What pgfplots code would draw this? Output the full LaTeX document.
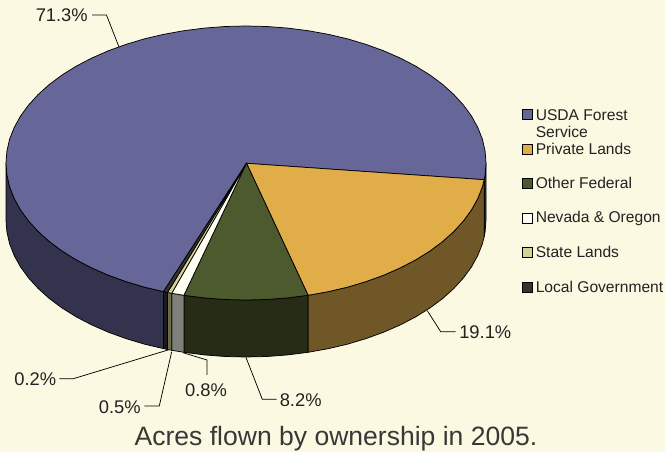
\documentclass[border=0pt]{standalone}
\usepackage{pgfplots}
\pgfplotsset{compat=1.18}
\usepackage{fontspec}
\setmainfont{Liberation Sans}
\definecolor{bg}{HTML}{FBF9E2}
\definecolor{blueT}{HTML}{666699}
\definecolor{blueS}{HTML}{33334D}
\definecolor{orT}{HTML}{E0AD49}
\definecolor{orS}{HTML}{705727}
\definecolor{grT}{HTML}{4D5A2D}
\definecolor{grS}{HTML}{262C16}
\definecolor{whT}{HTML}{FFFFF3}
\definecolor{whS}{HTML}{80807A}
\definecolor{stT}{HTML}{D6D292}
\definecolor{stS}{HTML}{6E6B49}
\definecolor{loT}{HTML}{333333}
\definecolor{loS}{HTML}{1A1A1A}
\definecolor{txt}{HTML}{222222}
\tikzset{
  lab/.style={font=\fontsize{13.75pt}{15pt}\selectfont, text=txt, inner sep=0pt},
  leg/.style={font=\fontsize{11.7pt}{12.4pt}\selectfont, text=txt, inner sep=0pt, anchor=west},
  ld/.style={draw=black, line width=0.6pt, fill=none, sharp plot},
}
\begin{document}
\begin{tikzpicture}
\begin{axis}[
  scale only axis, width=498.75pt, height=339pt,
  xmin=0, xmax=665, ymin=0, ymax=452, y dir=reverse,
  hide axis, clip=true,
  every axis plot post/.append style={line width=0.55pt, mark=none},
]
% background
\addplot[fill=bg, draw=none] coordinates {(0,0)(665,0)(665,452)(0,452)} --cycle;
% side walls
\addplot[fill=blueS, draw=black] coordinates {(163.5,291.6)(144.6,287.2)(126,281.6)(108.3,275.2)(91.7,267.9)(76.3,259.9)(62.2,251.1)(49.4,241.6)(38.2,231.5)(28.5,220.9)(20.5,209.9)(14.2,198.5)(9.6,186.8)(6.9,174.9)(6,163)(6,220)(6.9,231.9)(9.6,243.8)(14.2,255.5)(20.5,266.9)(28.5,277.9)(38.2,288.5)(49.4,298.6)(62.2,308.1)(76.3,316.9)(91.7,324.9)(108.3,332.2)(126,338.6)(144.6,344.2)(163.5,348.6)} --cycle;
\addplot[fill=blueS, draw=black] coordinates {(486,163)(485.1,174.9)(484.2,179.7)(484.2,236.7)(485.1,231.9)(486,220)} --cycle;
\addplot[fill=orS, draw=black] coordinates {(484.2,179.7)(482.4,186.8)(477.8,198.5)(471.5,209.9)(463.5,220.9)(453.8,231.5)(442.6,241.6)(429.8,251.1)(415.7,259.9)(400.3,267.9)(383.7,275.2)(366,281.6)(347.4,287.2)(328.1,291.7)(308.1,295.3)(308.1,352.3)(328.1,348.7)(347.4,344.2)(366,338.6)(383.7,332.2)(400.3,324.9)(415.7,316.9)(429.8,308.1)(442.6,298.6)(453.8,288.5)(463.5,277.9)(471.5,266.9)(477.8,255.5)(482.4,243.8)(484.2,236.7)} --cycle;
\addplot[fill=grS, draw=black] coordinates {(308.1,295.3)(287.7,297.9)(266.9,299.5)(246,300)(225.1,299.5)(204.3,297.9)(183.9,295.3)(183.9,352.3)(204.3,354.9)(225.1,356.5)(246,357)(266.9,356.5)(287.7,354.9)(308.1,352.3)} --cycle;
\addplot[fill=whS, draw=black] coordinates {(183.9,295.3)(171.7,293.3)(171.7,350.3)(183.9,352.3)} --cycle;
\addplot[fill=stS, draw=black] coordinates {(171.7,293.3)(167.5,292.5)(167.5,349.5)(171.7,350.3)} --cycle;
\addplot[fill=loS, draw=black] coordinates {(167.5,292.5)(163.5,291.6)(163.5,348.6)(167.5,349.5)} --cycle;
% top slices
\addplot[fill=blueT, draw=black] coordinates {(246.5,163.3)(163.5,291.6)(144.6,287.2)(126,281.6)(108.3,275.2)(91.7,267.9)(76.3,259.9)(62.2,251.1)(49.4,241.6)(38.2,231.5)(28.5,220.9)(20.5,209.9)(14.2,198.5)(9.6,186.8)(6.9,174.9)(6,163)(6.9,151.1)(9.6,139.2)(14.2,127.5)(20.5,116.1)(28.5,105.1)(38.2,94.5)(49.4,84.4)(62.2,74.9)(76.3,66.1)(91.7,58.1)(108.3,50.8)(126,44.4)(144.6,38.8)(163.9,34.3)(183.9,30.7)(204.3,28.1)(225.1,26.5)(246,26)(266.9,26.5)(287.7,28.1)(308.1,30.7)(328.1,34.3)(347.4,38.8)(366,44.4)(383.7,50.8)(400.3,58.1)(415.7,66.1)(429.8,74.9)(442.6,84.4)(453.8,94.5)(463.5,105.1)(471.5,116.1)(477.8,127.5)(482.4,139.2)(485.1,151.1)(486,163)(485.1,174.9)(484.2,179.7)} --cycle;
\addplot[fill=orT, draw=black] coordinates {(246.5,163.3)(484.2,179.7)(482.4,186.8)(477.8,198.5)(471.5,209.9)(463.5,220.9)(453.8,231.5)(442.6,241.6)(429.8,251.1)(415.7,259.9)(400.3,267.9)(383.7,275.2)(366,281.6)(347.4,287.2)(328.1,291.7)(308.1,295.3)} --cycle;
\addplot[fill=grT, draw=black] coordinates {(246.5,163.3)(308.1,295.3)(287.7,297.9)(266.9,299.5)(246,300)(225.1,299.5)(204.3,297.9)(183.9,295.3)} --cycle;
\addplot[fill=whT, draw=black] coordinates {(246.5,163.3)(183.9,295.3)(171.7,293.3)} --cycle;
\addplot[fill=stT, draw=black] coordinates {(246.5,163.3)(171.7,293.3)(167.5,292.5)} --cycle;
\addplot[fill=loT, draw=black] coordinates {(246.5,163.3)(167.5,292.5)(163.5,291.6)} --cycle;
% leaders
\addplot[ld] coordinates {(119,47)(106.5,15)(92,15)};
\addplot[ld] coordinates {(427.3,310.7)(440.7,331.7)(455.7,331.7)};
\addplot[ld] coordinates {(246,357.5)(262.3,399.3)(276.7,399.3)};
\addplot[ld] coordinates {(183,352.7)(207,360)(207,375)};
\addplot[ld] coordinates {(171.7,351.7)(159.3,406)(144.3,406)};
\addplot[ld] coordinates {(168,350)(73.3,378.7)(59.3,378.7)};
% legend keys
\addplot[fill=blueT, draw=black] coordinates {(522.5,109.5)(532.5,109.5)(532.5,119.5)(522.5,119.5)} --cycle;
\addplot[fill=orT, draw=black] coordinates {(522.5,144)(532.5,144)(532.5,154)(522.5,154)} --cycle;
\addplot[fill=grT, draw=black] coordinates {(522.5,178.5)(532.5,178.5)(532.5,188.5)(522.5,188.5)} --cycle;
\addplot[fill=whT, draw=black] coordinates {(522.5,213)(532.5,213)(532.5,223)(522.5,223)} --cycle;
\addplot[fill=stT, draw=black] coordinates {(522.5,247)(532.5,247)(532.5,257)(522.5,257)} --cycle;
\addplot[fill=loT, draw=black] coordinates {(522.5,282)(532.5,282)(532.5,292)(522.5,292)} --cycle;
% text
\node[lab, anchor=east] at (axis cs:88,15.5) {71.3\%};
\node[lab, anchor=west] at (axis cs:459,332) {19.1\%};
\node[lab, anchor=west] at (axis cs:279.5,400) {8.2\%};
\node[lab] at (axis cs:206,390.5) {0.8\%};
\node[lab, anchor=east] at (axis cs:141,407) {0.5\%};
\node[lab, anchor=east] at (axis cs:56.5,379.5) {0.2\%};
\node[leg] at (axis cs:535.5,115) {USDA Forest};
\node[leg] at (axis cs:535.5,132) {Service};
\node[leg] at (axis cs:535.5,149) {Private Lands};
\node[leg] at (axis cs:535.5,183) {Other Federal};
\node[leg] at (axis cs:535.5,218) {Nevada \& Oregon};
\node[leg] at (axis cs:535.5,252) {State Lands};
\node[leg] at (axis cs:535.5,287) {Local Government};
\node[font=\fontsize{19.9pt}{21pt}\selectfont, text=black!78, inner sep=0pt] at (axis cs:336,438.5) {Acres flown by ownership in 2005.};
\end{axis}
\end{tikzpicture}
\end{document}
